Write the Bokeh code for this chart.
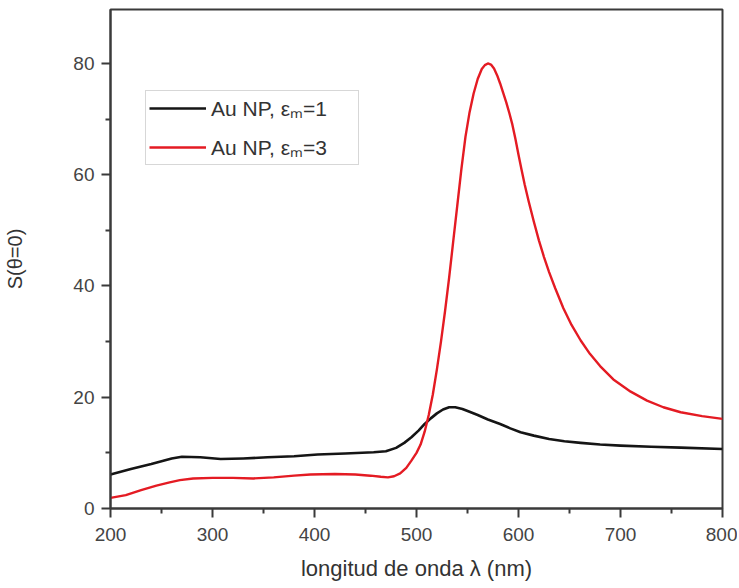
from bokeh.plotting import figure
from bokeh.models import Range1d, Legend, LegendItem, FixedTicker
from bokeh.embed import file_html
from bokeh.resources import INLINE

# ---- data ----
wl_eps1 = [200, 220, 240, 260, 270, 288, 308, 330, 354, 380, 403, 430, 458, 470,
           480, 488, 495, 502, 508, 514, 520, 526, 532, 538, 545, 552, 560, 570,
           582, 592, 602, 615, 630, 645, 661, 680, 700, 730, 759, 800]
s_eps1 = [6.1, 7.1, 8.0, 9.0, 9.3, 9.2, 8.9, 9.0, 9.2, 9.4, 9.7, 9.9, 10.1, 10.3,
          10.9, 11.8, 12.8, 14.0, 15.2, 16.2, 17.1, 17.8, 18.2, 18.2, 17.9, 17.4,
          16.8, 16.0, 15.2, 14.4, 13.7, 13.1, 12.5, 12.1, 11.8, 11.5, 11.3, 11.1,
          10.95, 10.7]

wl_eps3 = [200, 215, 230, 245, 258, 268, 281, 300, 320, 340, 360, 380, 396, 420,
           440, 455, 465, 472, 478, 484, 490, 495, 500, 504, 508, 512, 516, 520,
           524, 528, 532, 536, 540, 544, 548, 552, 556, 560, 564, 567, 570, 573,
           576, 579, 582, 585, 588, 591, 594, 597, 600, 603, 606, 610, 615, 620,
           625, 630, 636, 644, 652, 661, 670, 680, 693, 710, 726, 742, 759, 780,
           800]
s_eps3 = [1.9, 2.4, 3.3, 4.1, 4.7, 5.1, 5.4, 5.5, 5.5, 5.4, 5.6, 5.9, 6.1, 6.2,
          6.1, 5.9, 5.7, 5.6, 5.8, 6.3, 7.3, 8.6, 10.0, 11.5, 13.8, 16.8, 20.5,
          25.0, 30.0, 35.5, 41.5, 48.0, 54.5, 61.0, 66.8, 71.2, 74.6, 77.2, 79.0,
          79.7, 80.0, 79.8, 79.1, 77.9, 76.4, 74.7, 73.0, 71.1, 69.0, 66.4, 63.6,
          60.9, 58.3, 55.2, 51.6, 48.2, 45.2, 42.5, 39.6, 36.0, 33.0, 30.2, 27.8,
          25.6, 23.2, 21.0, 19.4, 18.2, 17.3, 16.6, 16.1]

series_labels = ["Au NP, \u03b5\u2098=1", "Au NP, \u03b5\u2098=3"]
series_colors = ["#151515", "#e41b23"]
x_ticks = [200, 300, 400, 500, 600, 700, 800]
x_minor = [250, 350, 450, 550, 650, 750]
y_ticks = [0, 20, 40, 60, 80]
y_minor = [10, 30, 50, 70]
x_label = "longitud de onda \u03bb (nm)"
y_label = "S(\u03b8=0)"

FONT = "Liberation Sans"
AX = "#3a3a3a"

p = figure(frame_width=612, frame_height=499,
           x_range=Range1d(200, 800), y_range=Range1d(0, 89.7),
           output_backend="svg", toolbar_location=None,
           min_border_left=110, min_border_right=15,
           min_border_top=9, min_border_bottom=78,
           background_fill_color="white", border_fill_color="white")

p.xgrid.visible = False
p.ygrid.visible = False
p.outline_line_color = AX
p.outline_line_width = 2

r1 = p.line(wl_eps1, s_eps1, line_color=series_colors[0], line_width=2.6,
            line_join="round")
r2 = p.line(wl_eps3, s_eps3, line_color=series_colors[1], line_width=2.4,
            line_join="round")

for ax in (p.xaxis[0], p.yaxis[0]):
    ax.axis_line_color = AX
    ax.axis_line_width = 2
    ax.major_tick_line_color = AX
    ax.major_tick_line_width = 2
    ax.minor_tick_line_color = AX
    ax.minor_tick_line_width = 2
    ax.major_tick_in = 0
    ax.major_tick_out = 9
    ax.minor_tick_in = 0
    ax.minor_tick_out = 5
    ax.major_label_text_font = FONT
    ax.major_label_text_font_size = "19px"
    ax.major_label_text_color = "#444444"
    ax.axis_label_text_font = FONT
    ax.axis_label_text_font_style = "normal"
    ax.axis_label_text_color = "#333333"

p.xaxis[0].ticker = FixedTicker(ticks=x_ticks, minor_ticks=x_minor)
p.yaxis[0].ticker = FixedTicker(ticks=y_ticks, minor_ticks=y_minor)
p.xaxis[0].major_label_standoff = 10
p.yaxis[0].major_label_standoff = 7
p.xaxis[0].axis_label = x_label
p.yaxis[0].axis_label = y_label
p.xaxis[0].axis_label_text_font_size = "22px"
p.yaxis[0].axis_label_text_font_size = "20px"
p.xaxis[0].axis_label_standoff = 12
p.yaxis[0].axis_label_standoff = 44

legend = Legend(items=[LegendItem(label=series_labels[0], renderers=[r1]),
                       LegendItem(label=series_labels[1], renderers=[r2])],
                location=(35, 343), orientation="vertical",
                border_line_color="#b0b0b0", border_line_width=1,
                background_fill_color="white", background_fill_alpha=1.0,
                padding=3, spacing=11, margin=0,
                glyph_width=57, glyph_height=20, label_height=20,
                label_standoff=5, label_width=144,
                label_text_font=FONT, label_text_font_size="21px",
                label_text_color="#333333")
p.add_layout(legend, "center")

open("out.html", "w").write(file_html(p, INLINE))
